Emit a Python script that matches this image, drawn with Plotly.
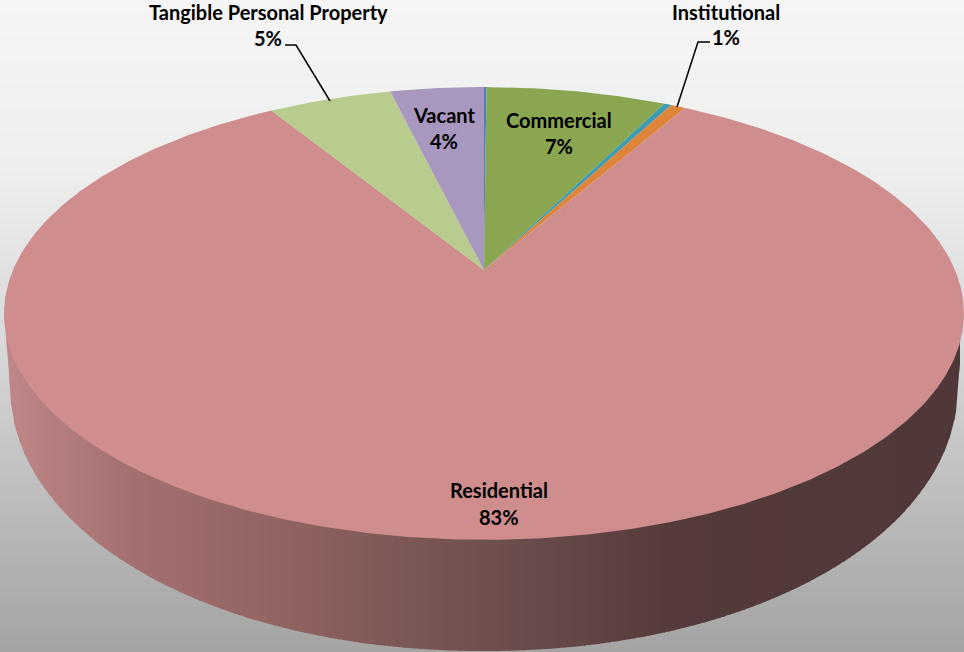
import numpy as np
import plotly.graph_objects as go

# ---- data (clockwise from the top of the pie) ----
categories = ["Other", "Commercial", "Agricultural", "Institutional", "Residential",
              "Tangible Personal Property", "Vacant"]
shares = [0.1, 7.3, 0.3, 0.6, 82.9, 5.0, 3.8]
colors = ["#4F81BD", "#8AA650", "#3C9CB0", "#DF8539", "#CF8E8D", "#B8CC90", "#A897BE"]

W, H = 964, 652
CX, CY = 484.0, 270.0   # apex
K = 0.192               # perspective
A, B = 471.0, 218.0

def project(t):
    X, Y = np.sin(t), np.cos(t)
    w = 1 + K * Y
    return CX + A * X / w, CY - B * Y / w

# lower rim
BA, BB, BCY, BP = 474.0, 266.0, 385.0, 2.05
# upper rim extremes (for wall top)
TA, TCY = 480.0, 313.5

fig = go.Figure()

# background gradient
bg_y = np.arange(0, H + 2, 2)
bg_level = np.interp(bg_y, [0, 170, 350, 480, 560, 652], [245, 238, 215, 192, 178, 164])
fig.add_trace(go.Heatmap(x=[0, W], y=bg_y, z=np.column_stack([bg_level, bg_level]),
                         colorscale=[[0, "rgb(164,164,164)"], [1, "rgb(245,245,245)"]],
                         zmin=164, zmax=245, showscale=False, hoverinfo="skip"))

# side wall
wall_x = [5, 130, 300, 400, 530, 680, 964]
wall_r = [192, 163, 143, 125, 105, 84, 80]
wall_g = [135, 112, 98, 88, 75, 58, 56]
wall_b = [135, 112, 96, 86, 75, 58, 56]

def lower(x):
    d = np.abs(x - CX)
    y = np.where(d < BA, BCY + BB * np.clip(1 - (d / BA) ** BP, 0, 1) ** (1 / BP), BCY)
    # taper from the outer edge of the lower rim to the extreme of the upper rim
    t = np.clip((d - BA) / (TA - BA), 0, 1)
    return y + t * (TCY - y)

STEP = 5
for x0 in np.arange(4, 960, STEP):
    x1 = min(x0 + STEP + 1, 960)
    xs = np.linspace(x0, x1, 4)
    ys = lower(xs)
    mid = (x0 + x1) / 2
    col = f"rgb({np.interp(mid, wall_x, wall_r):.0f},{np.interp(mid, wall_x, wall_g):.0f},{np.interp(mid, wall_x, wall_b):.0f})"
    fig.add_trace(go.Scatter(x=[x0, *xs, x1], y=[TCY, *ys, TCY], mode="lines", fill="toself",
                             fillcolor=col, line=dict(width=0), hoverinfo="skip", showlegend=False))

# top face slices
cum = np.concatenate([[0], np.cumsum(shares)])
for i, name in enumerate(categories):
    t = np.linspace(cum[i], cum[i + 1], max(3, int(shares[i] * 6))) / 100 * 2 * np.pi
    x, y = project(t)
    fig.add_trace(go.Scatter(x=[CX, *x, CX], y=[CY, *y, CY], mode="lines", fill="toself",
                             fillcolor=colors[i], line=dict(width=0), name=name,
                             hoverinfo="name", showlegend=False))

# leader lines
leader_tangible_x, leader_tangible_y = [285, 296, 330], [45, 45, 101]
leader_inst_x, leader_inst_y = [710, 698, 677], [42, 42, 107]
for lx, ly in [(leader_tangible_x, leader_tangible_y), (leader_inst_x, leader_inst_y)]:
    fig.add_trace(go.Scatter(x=lx, y=ly, mode="lines", line=dict(color="black", width=1.5),
                             hoverinfo="skip", showlegend=False))

# labels
labels = [
    ("Tangible Personal Property", 268, 12), ("5%", 268, 38),
    ("Institutional", 726, 12), ("1%", 726, 37),
    ("Vacant", 444, 115), ("4%", 444, 141),
    ("Commercial", 559, 120), ("7%", 559, 146),
    ("Residential", 499, 490), ("83%", 499, 517),
]
for text, x, y in labels:
    fig.add_annotation(x=x, y=y, text=f"<b>{text}</b>", showarrow=False, xanchor="center", yanchor="middle",
                       font=dict(family="Lato", size=20, color="black"))

fig.update_layout(width=W, height=H, margin=dict(l=0, r=0, t=0, b=0), showlegend=False,
                  plot_bgcolor="#a4a4a4", paper_bgcolor="#a4a4a4",
                  xaxis=dict(range=[0, W], visible=False, fixedrange=True),
                  yaxis=dict(range=[H, 0], visible=False, fixedrange=True))
fig.write_html("out.html", config=dict(displayModeBar=False),
               post_script="document.body.style.margin='0';document.body.style.overflow='hidden';")
